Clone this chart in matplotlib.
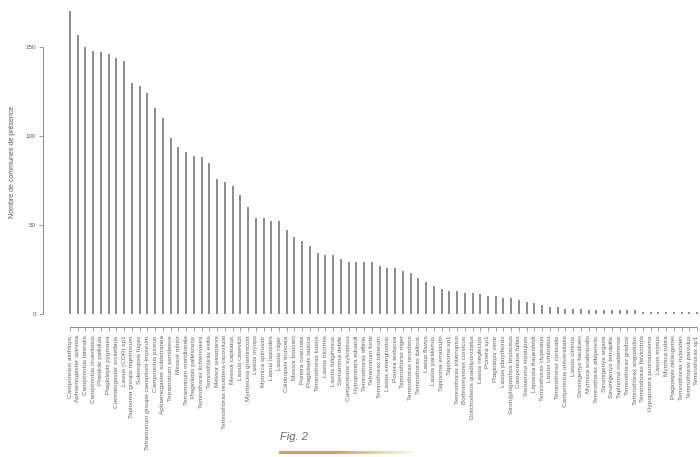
import numpy as np
import matplotlib
matplotlib.use('Agg')
import matplotlib.pyplot as plt

especes = ['Camponotus aethiops', 'Aphaenogaster spinosa', 'Camponotus lateralis',
           'Camponotus cruentatus', 'Pheidole pallidula', 'Plagiolepis pygmaea',
           'Crematogaster scutellaris', 'Lasius (COR) sp1', 'Tapinoma groupe nigerrimum',
           'Solenopsis fugax', 'Tetramorium groupe caespitum-impurum', 'Camponotus piceus',
           'Aphaenogaster subterranea', 'Tetramorium semilaeve', 'Messor minor',
           'Tetramorium meridionale', 'Plagiolepis pallescens', 'Temnothorax lichtensteini',
           'Temnothorax exilis', 'Messor wasmanni', 'Temnothorax recedens-racovitzai',
           'Messor capitatus', 'Lasius casevitzi', 'Myrmecina graminicola', 'Lasius myops',
           'Myrmica spinosior', 'Lasius lasioides', 'Lasius niger', 'Colobopsis truncata',
           'Messor bouvieri', 'Ponera coarctata', 'Plagiolepis taurica', 'Temnothorax luteus',
           'Lasius bicornis', 'Lasius fuliginosus', 'Stenamma debile', 'Camponotus sylvaticus',
           'Hypoponera eduardi', 'Temnothorax affinis', 'Tetramorium forte',
           'Temnothorax tuberum', 'Lasius emarginatus', 'Ponera testacea', 'Temnothorax niger',
           'Temnothorax recedens', 'Temnothorax italicus', 'Lasius flavus', 'Lasius paralienus',
           'Tapinoma erraticum', 'Tapinoma sp1', 'Temnothorax interruptus',
           'Bothriomyrmex corsicus', 'Dolichoderus quadripunctatus', 'Lasius neglectus',
           'Ponera sp1', 'Plagiolepis xene', 'Lasius platythorax', 'Strongylognathus testaceus',
           'Camponotus fallax', 'Stenamma striatulum', 'Lepisiota frauenfeldi',
           'Temnothorax clypeatus', 'Lasius umbratus', 'Temnothorax corticalis',
           'Camponotus universitatis', 'Lasius citrinus', 'Strumigenys baudueri',
           'Myrmica scabrinodis', 'Temnothorax albipennis', 'Strumigenys argiola',
           'Strumigenys tenuipilis', 'Tapinoma madeirense', 'Temnothorax gredosi',
           'Temnothorax angustulus', 'Temnothorax flavicornis', 'Hypoponera punctatissima',
           'Lasius mixtus', 'Myrmica rubra', 'Plagiolepis delaugerrei', 'Temnothorax nylanderi',
           'Temnothorax parvulus', 'Temnothorax sp1']

communes = [170, 157, 150, 148, 147, 146, 144, 142, 130, 128, 124, 116, 110, 99, 94, 91,
            89, 88, 85, 76, 74, 72, 67, 60, 54, 54, 52, 52, 47, 43, 41, 38, 34, 33, 33, 31,
            29, 29, 29, 29, 27, 26, 26, 24, 23, 20, 18, 16, 14, 13, 13, 12, 12, 11, 10, 10,
            9, 9, 8, 7, 6, 5, 4, 4, 3, 3, 3, 2, 2, 2, 2, 2, 2, 2, 1, 1, 1, 1, 1, 1, 1, 1]

plt.rcParams['font.family'] = ['Liberation Sans', 'DejaVu Sans']

W, H = 700, 457
fig = plt.figure(figsize=(7, 4.57), dpi=100)
ax = fig.add_axes([43 / W, 1 - 314 / H, (700 - 43) / W, 314 / H])

x = np.arange(1, len(communes) + 1)
ax.vlines(x, 0, communes, color='#8a8a8a', lw=1.4, clip_on=False)

ax.set_xlim(-2.49, 82.39)
ax.set_ylim(0, 176.4)

for s in ['top', 'right']:
    ax.spines[s].set_visible(False)
ax.spines['left'].set_bounds(0, 150)
ax.spines['left'].set_color('#8a8a8a')
ax.spines['left'].set_linewidth(0.7)
ax.spines['bottom'].set_position(('outward', 9.4))
ax.spines['bottom'].set_bounds(1, len(communes))
ax.spines['bottom'].set_color('#8a8a8a')
ax.spines['bottom'].set_linewidth(0.7)

ax.set_yticks([0, 50, 100, 150])
ax.tick_params(axis='y', length=3, width=0.6, color='#8a8a8a', labelsize=4.5,
               labelcolor='#555555', pad=2)
ax.set_xticks(x)
ax.set_xticklabels(especes, rotation=90, fontsize=4.6, color='#666666')
ax.tick_params(axis='x', length=3, width=0.6, color='#8a8a8a', pad=3)

fig.text(13 / W, 1 - 162 / H, 'Nombre de communes de présence', rotation=90,
         fontsize=5, color='#555555', ha='center', va='center')

fig.text(280 / W, 1 - 437 / H, 'Fig. 2', style='italic', fontsize=8,
         color='#666666', va='center')

# bandeau dore sous la legende
gax = fig.add_axes([279 / W, 1 - 454 / H, 141 / W, 3 / H])
grad = np.zeros((1, 200, 4))
grad[..., 0] = 0.78
grad[..., 1] = 0.65
grad[..., 2] = 0.28
grad[..., 3] = np.clip(1.6 - 1.6 * np.linspace(0, 1, 200), 0, 1)
gax.imshow(grad, aspect='auto')
gax.axis('off')

fig.savefig('out.png', dpi=100)
